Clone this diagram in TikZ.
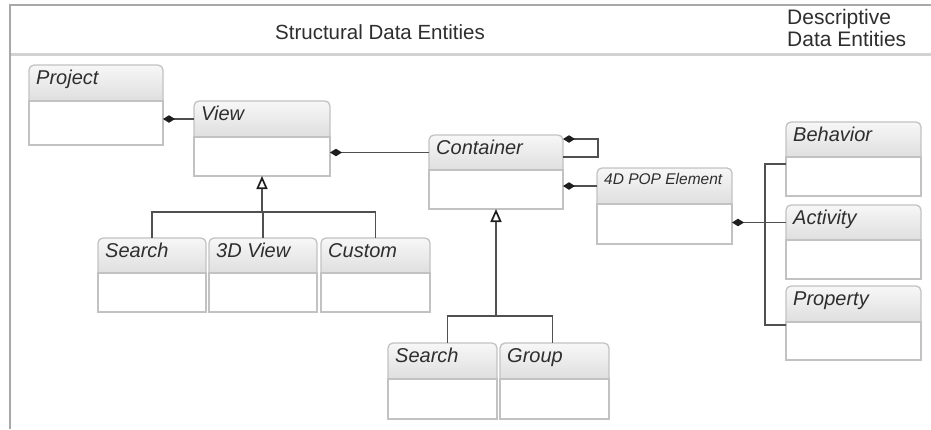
\documentclass[tikz,border=0pt]{standalone}
\usepackage{fontspec}
\setmainfont{Liberation Sans}
\usetikzlibrary{arrows.meta,calc}

\definecolor{frameline}{HTML}{A8A8A8}
\definecolor{bandgray}{HTML}{D2D2D2}
\definecolor{boxline}{HTML}{C2C2C2}
\definecolor{wire}{HTML}{505050}
\definecolor{tipink}{HTML}{1E1E1E}
\definecolor{ink}{HTML}{2E2E2E}
\definecolor{headtop}{HTML}{F7F7F7}
\definecolor{headbot}{HTML}{DADADA}

\tikzset{
  boxarea/.style={inner sep=0pt,outer sep=0pt},
  headshape/.style={draw=boxline,line width=1.3pt,rounded corners=5pt,
    top color=headtop,bottom color=headbot},
  bodybox/.style={draw=boxline,line width=1.3pt,fill=white,inner sep=0pt,outer sep=0pt},
  classname/.style={anchor=base west,inner sep=0pt,
    font=\fontsize{20}{22}\selectfont\itshape,text=ink},
  wireline/.style={draw=wire,line width=1.3pt},
  composite/.style={wireline,-{Diamond[length=12pt,width=7.5pt,color=tipink]}},
  inherit/.style={wireline,{Triangle[open,length=13pt,width=11pt,line width=1.7pt,color=tipink]}-},
}

% \umlclass[label options]{name}{x1}{y top}{x2}{y separator}{y bottom}{label}
\newcommand\umlclass[8][]{%
  \path[headshape] (#3,#6+7) rectangle (#5,#4);
  \node[boxarea,minimum width={(#5-#3)*1pt},minimum height={(#6-#4)*1pt}]
    (#2H) at ({(#3+#5)/2},{(#4+#6)/2}) {};
  \node[bodybox,minimum width={(#5-#3)*1pt},minimum height={(#7-#6)*1pt}]
    (#2B) at ({(#3+#5)/2},{(#6+#7)/2}) {};
  \node[classname,#1] (#2L) at ([xshift=7pt,yshift=-19.5pt]#2H.north west) {#8};
}

\begin{document}
\begin{tikzpicture}[x=1pt,y=-1pt]
\useasboundingbox (0,0) rectangle (931,429);

% frame and header band
\draw[frameline,line width=1.2pt] (10,429) -- (10,5) -- (931,5);
\draw[bandgray,line width=3pt] (11,54) -- (931,54);

\node[font=\fontsize{20.5}{22}\selectfont,text=ink] (structTitle) at (380,32)
  {Structural Data Entities};
\node[font=\fontsize{21}{22}\selectfont,text=ink,align=left,anchor=north west,
  inner sep=0pt] (descTitle) at (787,9) {Descriptive\\Data Entities};

% classes
\umlclass{project}{29}{65}{163}{101}{145}{Project}
\umlclass{view}{194}{101}{330}{137}{176}{View}
\umlclass{container}{429}{135}{563}{170}{209}{Container}
\umlclass[font=\fontsize{15.5}{17}\selectfont\itshape,yshift=3.5pt]{pop}{597}{168}{732}{204}{244}{4D POP Element}
\umlclass{behavior}{786}{122}{921}{157}{196}{Behavior}
\umlclass{activity}{786}{205}{921}{240}{279}{Activity}
\umlclass{property}{786}{286}{921}{322}{360}{Property}
\umlclass{searchA}{98}{238}{206}{273}{312}{Search}
\umlclass{viewD}{209}{238}{317}{273}{312}{3D View}
\umlclass{custom}{321}{238}{430}{273}{312}{Custom}
\umlclass{searchB}{388}{343}{497}{379}{419}{Search}
\umlclass{group}{500}{343}{609}{379}{419}{Group}

% compositions
\draw[composite] (viewH.west) -- (viewH.west -| projectB.east);
\draw[composite] (containerH.west) -- (containerH.west -| viewB.east);
\draw[composite] ([yshift=-4.5pt]containerH.east) -- ++(35,0)
  |- ([yshift=-4pt]containerH.north east);
\draw[composite] (popH.west) -- (popH.west -| containerB.east);
\draw[composite] (activityH.west) -- (activityH.west -| popB.east);
\draw[wireline] ([yshift=-7pt]behaviorB.north west) -- ++(-21,0)
  |- ([yshift=-3pt]propertyB.north west);

% generalisations of View
\coordinate (viewBus) at ($(viewB.south)+(0,36)$);
\draw[inherit] (viewB.south) -- (viewBus);
\draw[wireline] (searchAH.north) |- (viewBus) -| (customH.north);
\draw[wireline] (viewBus) -- (viewBus -| viewDH.north) -- (viewDH.north);

% generalisations of Container
\coordinate (contBus) at ($(containerB.south)+(0,107)$);
\draw[inherit] (containerB.south) -- (contBus);
\draw[wireline] ([xshift=5pt]searchBH.north) |- (contBus) -| ([xshift=-2pt]groupH.north);
\end{tikzpicture}
\end{document}
